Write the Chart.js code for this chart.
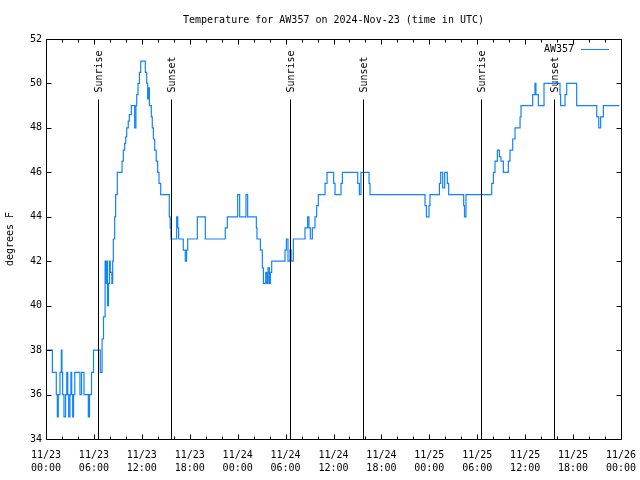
<!DOCTYPE html>
<html>
<head>
<meta charset="utf-8">
<title>Temperature for AW357</title>
<script src="https://cdn.jsdelivr.net/npm/chart.js@4.4.1/dist/chart.umd.min.js"></script>
<style>
  body { margin: 0; background: #fff; }
  canvas { display: block; }
</style>
</head>
<body>
<canvas id="chart" width="640" height="480"></canvas>
<script>
// hours since 2024-11-23 00:00 UTC when the reading changed
const hours = [
  0.00, 0.80, 1.29, 1.42, 1.54, 1.75, 1.92, 2.00, 2.08, 2.25, 2.45, 2.60, 2.72, 2.84, 3.00, 3.12, 3.22, 3.34, 3.45, 3.60,
  4.25, 4.45, 4.76, 5.30, 5.45, 5.70, 5.95, 6.80, 7.02, 7.20, 7.40, 7.50, 7.58, 7.70, 7.82, 7.95, 8.05, 8.25, 8.35, 8.43,
  8.60, 8.72, 8.93, 9.52, 9.68, 9.85, 9.98, 10.10, 10.30, 10.43, 10.68, 11.10, 11.26, 11.36, 11.52, 11.70, 11.86, 12.44, 12.61, 12.73,
  12.85, 12.95, 13.19, 13.31, 13.45, 13.61, 13.80, 13.98, 14.15, 14.36, 15.44, 15.55, 15.65, 16.36, 16.50, 16.61, 17.19, 17.44, 17.60, 17.74,
  18.95, 19.95, 22.45, 22.70, 24.00, 24.25, 25.04, 25.25, 26.34, 26.42, 26.84, 27.09, 27.22, 27.51, 27.67, 27.80, 27.97, 28.09, 28.26, 29.93,
  30.10, 30.30, 30.55, 30.70, 30.97, 32.43, 32.76, 32.93, 33.10, 33.35, 33.68, 33.89, 34.10, 34.94, 35.19, 36.02, 36.19, 36.94, 37.11, 39.03,
  39.24, 39.44, 40.45, 40.57, 47.46, 47.63, 47.96, 48.08, 49.26, 49.42, 49.67, 49.92, 50.25, 50.42, 52.30, 52.40, 52.59, 55.81, 56.02, 56.22,
  56.52, 56.77, 56.97, 57.27, 57.89, 58.10, 58.44, 58.73, 59.36, 59.48, 60.94, 61.23, 61.35, 61.65, 62.36, 64.36, 64.44, 64.99, 65.20, 66.45,
  68.96, 69.21, 69.45, 69.79, 71.79
];
const temps = [
  38, 37, 36, 35, 36, 37, 38, 37, 36, 35, 36, 37, 36, 35, 36, 37, 36, 35, 36, 37,
  36, 37, 36, 35, 36, 37, 38, 37, 38.5, 39.5, 42, 41, 42, 40, 41, 42, 41.5, 41, 42, 43,
  44, 45, 46, 46.5, 47, 47.3, 47.6, 48, 48.3, 48.6, 49, 48, 49, 49.5, 50, 50.5, 51, 50.5, 50, 49.3,
  49.8, 49, 48.5, 48, 47.5, 47, 46.5, 46, 45.5, 45, 44, 43.5, 43, 44, 43.5, 43, 42.5, 42, 42.5, 43,
  44, 43, 43.5, 44, 45, 44, 45, 44, 43.5, 43, 42.5, 41.7, 41, 41.5, 41, 41.7, 41, 41.5, 42, 42.5,
  43, 42, 42.5, 42, 43, 43.5, 44, 43.5, 43, 43.5, 44, 44.5, 45, 45.5, 46, 45.5, 45, 45.5, 46, 45.5,
  45, 46, 45.5, 45, 44.5, 44, 44.5, 45, 45.5, 46, 45.3, 46, 45.5, 45, 44.5, 44, 45, 45.5, 46, 46.5,
  47, 46.7, 46.5, 46, 46.5, 47, 47.5, 48, 48.5, 49, 49.5, 50, 49.5, 49, 50, 49.5, 49, 49.5, 50, 49,
  48.5, 48, 48.5, 49, 49
];

const sunHours = [6.55, 15.69, 30.59, 39.73, 54.50, 63.65];
const sunLabels = ['Sunrise', 'Sunset', 'Sunrise', 'Sunset', 'Sunrise', 'Sunset'];

const tickDays = ['11/23', '11/23', '11/23', '11/23', '11/24', '11/24', '11/24', '11/24', '11/25', '11/25', '11/25', '11/25', '11/26'];
const tickTimes = ['00:00', '06:00', '12:00', '18:00', '00:00', '06:00', '12:00', '18:00', '00:00', '06:00', '12:00', '18:00', '00:00'];

const mono = "'DejaVu Sans Mono', 'Liberation Mono', monospace";
const lineColor = '#1283ff';

Chart.defaults.color = '#000';
Chart.defaults.font.family = mono;
Chart.defaults.font.size = 10;

// frame with inward ticks, sun lines and the legend, drawn like gnuplot does
const gnuplotFrame = {
  id: 'gnuplotFrame',
  afterDatasetsDraw(chart) {
    const ctx = chart.ctx;
    const a = chart.chartArea;
    const xs = chart.scales.x, ys = chart.scales.y;
    const L = Math.round(a.left) + 0.5, R = Math.round(a.right) + 0.5;
    const T = Math.round(a.top) + 0.5, B = Math.round(a.bottom) + 0.5;
    ctx.save();
    ctx.strokeStyle = '#000';
    ctx.lineWidth = 1;
    ctx.beginPath();
    ctx.rect(L, T, R - L, B - T);
    for (let h = 0; h <= 72; h += 2) {
      const x = Math.round(xs.getPixelForValue(h)) + 0.5;
      const len = h % 6 === 0 ? 5 : 3;
      ctx.moveTo(x, B); ctx.lineTo(x, B - len);
      ctx.moveTo(x, T); ctx.lineTo(x, T + len);
    }
    for (let v = 34; v <= 52; v += 2) {
      const y = Math.round(ys.getPixelForValue(v)) + 0.5;
      ctx.moveTo(L, y); ctx.lineTo(L + 5, y);
      ctx.moveTo(R, y); ctx.lineTo(R - 5, y);
    }
    ctx.stroke();

    // sunrise / sunset markers up to 85% of the plot height
    const lineTop = Math.round(a.bottom - 0.85 * (a.bottom - a.top)) + 0.5;
    ctx.font = '10px ' + mono;
    ctx.fillStyle = '#000';
    sunHours.forEach((h, i) => {
      const x = Math.round(xs.getPixelForValue(h)) + 0.5;
      ctx.beginPath();
      ctx.moveTo(x, B); ctx.lineTo(x, lineTop);
      ctx.stroke();
      ctx.save();
      ctx.translate(x + 0.5, lineTop - 7);
      ctx.rotate(-Math.PI / 2);
      ctx.textAlign = 'left';
      ctx.textBaseline = 'middle';
      ctx.fillText(sunLabels[i], 0, 0);
      ctx.restore();
    });

    // legend in the top right corner
    const ly = Math.round(a.top + 10) + 0.5;
    ctx.textAlign = 'right';
    ctx.textBaseline = 'middle';
    ctx.fillText(chart.data.datasets[0].label, a.right - 47, ly);
    ctx.strokeStyle = lineColor;
    ctx.beginPath();
    ctx.moveTo(a.right - 40, ly); ctx.lineTo(a.right - 12, ly);
    ctx.stroke();
    ctx.restore();
  }
};

new Chart(document.getElementById('chart'), {
  type: 'line',
  data: {
    datasets: [{
      label: 'AW357',
      data: hours.map((h, i) => ({ x: h, y: temps[i] })),
      borderColor: lineColor,
      borderWidth: 1.2,
      pointRadius: 0,
      stepped: 'before',
      fill: false
    }]
  },
  options: {
    responsive: false,
    animation: false,
    devicePixelRatio: 1,
    layout: { padding: { left: 0, right: 19, top: 0, bottom: 0 } },
    plugins: {
      legend: { display: false },
      tooltip: { enabled: false },
      title: {
        display: true,
        fullSize: false,
        text: 'Temperature for AW357 on 2024-Nov-23 (time in UTC)',
        font: { size: 10, family: mono, weight: 'normal', lineHeight: 1.2 },
        padding: { top: 14, bottom: 13 }
      }
    },
    scales: {
      x: {
        type: 'linear',
        min: 0,
        max: 72,
        grid: { display: false, drawTicks: false },
        border: { display: false },
        ticks: {
          stepSize: 6,
          autoSkip: false,
          maxRotation: 0,
          padding: 10,
          font: { size: 10, lineHeight: 1.3 },
          callback: (v) => [tickDays[v / 6], tickTimes[v / 6]]
        },
        afterFit: (s) => { s.height = 41; s.paddingLeft = 0; s.paddingRight = 0; }
      },
      y: {
        min: 34,
        max: 52,
        grid: { display: false, drawTicks: false },
        border: { display: false },
        ticks: { stepSize: 2, padding: 4, font: { size: 10 } },
        title: {
          display: true,
          text: 'degrees F',
          font: { size: 10 },
          padding: { top: 4, bottom: 4 }
        },
        afterFit: (s) => { s.width = 46; s.paddingTop = 0; s.paddingBottom = 0; }
      }
    }
  },
  plugins: [gnuplotFrame]
});
</script>
</body>
</html>
